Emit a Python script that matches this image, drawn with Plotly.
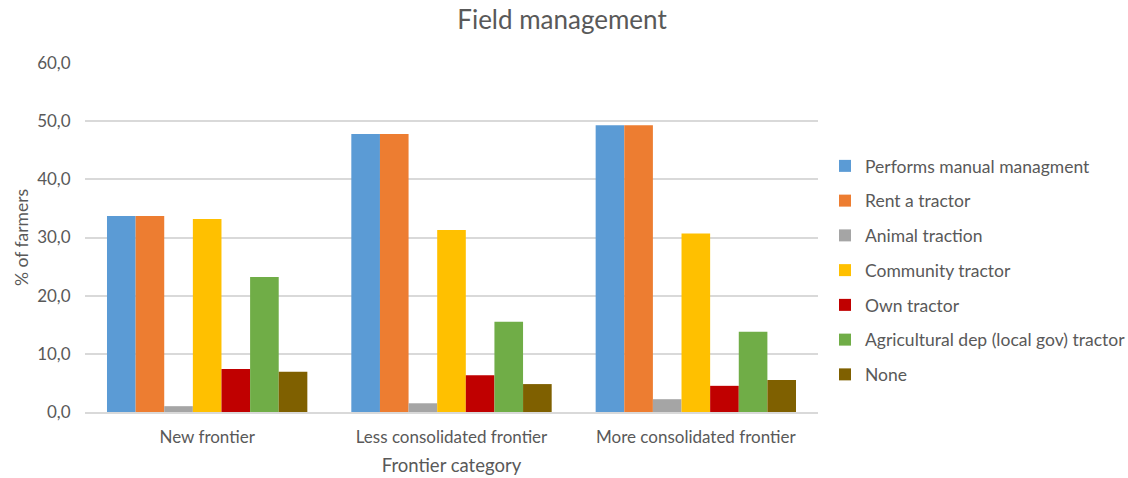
import plotly.graph_objects as go

categories = ["New frontier", "Less consolidated frontier", "More consolidated frontier"]

series_names = [
    "Performs manual managment",
    "Rent a tractor",
    "Animal traction",
    "Community tractor",
    "Own tractor",
    "Agricultural dep (local gov) tractor",
    "None",
]

manual = [33.7, 47.8, 49.3]
rent = [33.7, 47.8, 49.3]
animal = [1.0, 1.5, 2.2]
community = [33.2, 31.3, 30.7]
own = [7.4, 6.3, 4.5]
agri_dep = [23.2, 15.5, 13.8]
none = [6.9, 4.8, 5.5]

series_values = [manual, rent, animal, community, own, agri_dep, none]
colors = ["#5b9bd5", "#ed7d31", "#a5a5a5", "#ffc000", "#c00000", "#70ad47", "#7f6000"]

text_color = "#595959"
font_family = "Lato, Carlito, Calibri, sans-serif"

fig = go.Figure()
for i, (name, vals, col) in enumerate(zip(series_names, series_values, colors)):
    fig.add_trace(go.Bar(
        name=name,
        x=categories,
        y=vals,
        marker=dict(color=col, line=dict(width=0)),
        legendgroup=f"g{i}",
    ))

fig.update_layout(
    barmode="group",
    bargap=0.18,
    bargroupgap=0,
    width=1128,
    height=478,
    margin=dict(l=85, r=310, t=63, b=66),
    paper_bgcolor="white",
    plot_bgcolor="white",
    separators=", ",
    font=dict(family=font_family, color=text_color, size=17),
    title=dict(
        text="Field management",
        x=562 / 1128,
        xanchor="center",
        xref="container",
        y=1 - 20 / 478,
        yanchor="middle",
        yref="container",
        font=dict(size=26, color=text_color, family=font_family),
    ),
    legend=dict(
        x=825 / 1128,
        xref="container",
        xanchor="left",
        y=1 - 148 / 478,
        yref="container",
        yanchor="top",
        maxheight=420,
        font=dict(size=17.5, color=text_color, family=font_family),
        tracegroupgap=9,
        itemwidth=30,
        bgcolor="rgba(0,0,0,0)",
    ),
    xaxis=dict(
        automargin=False,
        showline=True,
        linecolor="#d9d9d9",
        linewidth=1.5,
        ticks="outside",
        ticklen=9,
        tickcolor="rgba(0,0,0,0)",
        tickfont=dict(size=17, color=text_color),
        title=dict(text="Frontier category", font=dict(size=18.5, color=text_color), standoff=13),
    ),
    yaxis=dict(
        automargin=False,
        range=[0, 60],
        dtick=10,
        tickformat=".1f",
        showgrid=True,
        gridcolor="#d9d9d9",
        gridwidth=1.5,
        zeroline=False,
        showline=False,
        ticks="outside",
        ticklen=10,
        tickcolor="rgba(0,0,0,0)",
        tickfont=dict(size=17, color=text_color),
        title=dict(text="% of farmers", font=dict(size=17.5, color=text_color), standoff=4),
    ),
)

fig.write_html("out.html")
